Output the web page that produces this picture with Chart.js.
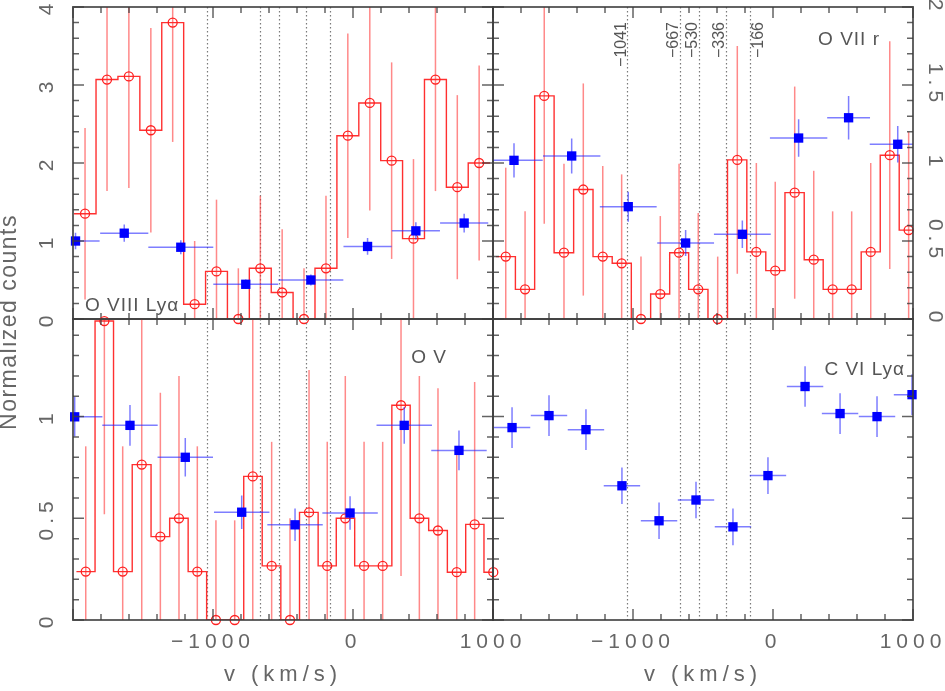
<!DOCTYPE html>
<html>
<head>
<meta charset="utf-8">
<script src="https://cdn.jsdelivr.net/npm/chart.js@4.4.1/dist/chart.umd.min.js"></script>
<style>
  body { margin: 0; background: #fff; }
  #wrap { position: relative; width: 945px; height: 691px; background: #fff; }
  #wrap canvas { position: absolute; left: 0; top: 0; }
</style>
</head>
<body>
<div id="wrap">
  <canvas id="panelO8" width="945" height="691"></canvas>
  <canvas id="panelO7" width="945" height="691"></canvas>
  <canvas id="panelO5" width="945" height="691"></canvas>
  <canvas id="panelC6" width="945" height="691"></canvas>
</div>
<script>
// velocities of the absorption components (km/s)
const markerVelocities = [-1041, -667, -530, -336, -166];

// O VIII Ly alpha
const o8Vel = [-1914, -1757, -1601, -1444, -1288, -1131, -975, -819, -662, -506, -350, -193, -37, 120, 276, 432, 589, 745, 901];
const o8Counts = [1.35, 3.07, 3.11, 2.42, 3.80, 0.19, 0.61, 0.00, 0.65, 0.34, 0.00, 0.65, 2.35, 2.77, 2.03, 1.03, 3.07, 1.69, 2.00];
const o8CountsErr = [1.10, 1.43, 1.43, 1.31, 1.53, 0.81, 0.92, 0.65, 0.93, 0.81, 0.65, 0.93, 1.31, 1.38, 1.26, 1.02, 1.43, 1.18, 1.25];
const o8BinVel = [-1982, -1634, -1230, -766, -301, 104, 449, 794];
const o8BinHalf = [172, 172, 232, 232, 232, 172, 172, 172];
const o8Norm = [1.00, 1.10, 0.92, 0.445, 0.50, 0.93, 1.13, 1.23];
const o8NormErr = [0.107, 0.11, 0.09, 0.06, 0.07, 0.107, 0.11, 0.12];

// O VII r
const o7Vel = [-1909, -1771, -1634, -1493, -1355, -1216, -1081, -943, -805, -671, -534, -395, -255, -119, 16, 155, 291, 426, 562, 698, 834, 969];
const o7Counts = [0.40, 0.19, 1.43, 0.425, 0.83, 0.40, 0.357, 0.00, 0.16, 0.425, 0.19, 0.00, 1.02, 0.43, 0.31, 0.81, 0.38, 0.19, 0.19, 0.43, 1.05, 0.57];
const o7CountsErr = [0.57, 0.50, 0.82, 0.57, 0.68, 0.58, 0.57, 0.40, 0.50, 0.57, 0.49, 0.40, 0.73, 0.57, 0.57, 0.68, 0.57, 0.50, 0.50, 0.57, 0.73, 0.63];
const o7BinVel = [-1850, -1438, -1034, -624, -219, 183, 540, 891];
const o7BinHalf = [205, 205, 203, 203, 203, 205, 153, 200];
const o7Norm = [1.017, 1.045, 0.72, 0.487, 0.543, 1.16, 1.29, 1.12];
const o7NormErr = [0.11, 0.112, 0.096, 0.083, 0.088, 0.12, 0.14, 0.117];

// O V
const o5Vel = [-1909, -1776, -1645, -1509, -1376, -1243, -1112, -979, -845, -716, -581, -450, -314, -184, -55, 79, 212, 343, 474, 607, 741, 869, 1002];
const o5Counts = [0.238, 1.47, 0.238, 0.764, 0.41, 0.50, 0.238, 0.00, 0.00, 0.706, 0.266, 0.00, 0.529, 0.266, 0.50, 0.266, 0.266, 1.056, 0.50, 0.44, 0.235, 0.47, 0.235];
const o5CountsErr = [0.616, 0.95, 0.616, 0.85, 0.707, 0.70, 0.616, 0.49, 0.49, 0.85, 0.61, 0.50, 0.70, 0.61, 0.70, 0.61, 0.61, 0.84, 0.70, 0.70, 0.616, 0.70, 0.616];
const o5BinVel = [-1988, -1593, -1198, -795, -414, -21, 366, 757];
const o5BinHalf = [198, 198, 198, 198, 198, 198, 198, 198];
const o5Norm = [0.999, 0.957, 0.80, 0.53, 0.468, 0.526, 0.957, 0.834];
const o5NormErr = [0.097, 0.10, 0.095, 0.082, 0.08, 0.082, 0.09, 0.098];

// C VI Ly alpha
const c6BinVel = [-1864, -1600, -1336, -1079, -814, -550, -286, -36, 229, 479, 743, 993];
const c6BinHalf = [130, 130, 130, 130, 130, 130, 130, 130, 130, 130, 130, 130];
const c6Norm = [0.946, 1.005, 0.936, 0.66, 0.488, 0.59, 0.458, 0.71, 1.148, 1.015, 1.00, 1.108];
const c6NormErr = [0.10, 0.10, 0.10, 0.09, 0.09, 0.09, 0.09, 0.09, 0.10, 0.10, 0.10, 0.10];

Chart.defaults.font.family = "'Liberation Sans', Arial, sans-serif";
Chart.defaults.color = '#666';

const FONT = "'Liberation Sans', Arial, sans-serif";

function isStep(v, step) {
    const q = v / step;
    return Math.abs(q - Math.round(q)) < 1e-6;
}

function fmt(v) {
    const r = Math.round(v * 100) / 100;
    return r < 0 ? '\u2212' + Math.abs(r) : String(r);
}

const panelFrame = {
    id: 'panelFrame',
    beforeDraw(chart) {
        chart.ctx.letterSpacing = '5px';
    },
    beforeDatasetsDraw(chart) {
        const {ctx, chartArea: a, scales: {x}} = chart;
        ctx.save();
        ctx.strokeStyle = '#7a7a7a';
        ctx.lineWidth = 1.2;
        ctx.setLineDash([1.4, 2.6]);
        markerVelocities.forEach(v => {
            const px = Math.round(x.getPixelForValue(v)) + 0.5;
            ctx.beginPath();
            ctx.moveTo(px, a.top);
            ctx.lineTo(px, a.bottom);
            ctx.stroke();
        });
        ctx.restore();
    },
    beforeDatasetDraw(chart, args) {
        const ds = chart.data.datasets[args.index];
        if (!ds.yErr) return;
        const {ctx, chartArea: a, scales: {x, y}} = chart;
        ctx.save();
        ctx.beginPath();
        ctx.rect(a.left, a.top, a.right - a.left, a.bottom - a.top);
        ctx.clip();
        ctx.strokeStyle = ds.errColor;
        ctx.lineWidth = 1.5;
        ds.data.forEach((p, i) => {
            const px = x.getPixelForValue(p.x);
            const py = y.getPixelForValue(p.y);
            ctx.beginPath();
            ctx.moveTo(px, y.getPixelForValue(p.y - ds.yErr[i]));
            ctx.lineTo(px, y.getPixelForValue(p.y + ds.yErr[i]));
            if (ds.xErr) {
                ctx.moveTo(x.getPixelForValue(p.x - ds.xErr[i]), py);
                ctx.lineTo(x.getPixelForValue(p.x + ds.xErr[i]), py);
            }
            ctx.stroke();
        });
        ctx.restore();
    },
    afterDraw(chart, args, opts) {
        const {ctx, chartArea: a, scales: {x, y}} = chart;
        ctx.save();
        ctx.letterSpacing = '0px';
        // frame
        ctx.strokeStyle = 'rgba(60,60,60,0.8)';
        ctx.lineWidth = 2;
        ctx.strokeRect(a.left, a.top, a.right - a.left, a.bottom - a.top);
        // inward ticks
        ctx.lineWidth = 1.5;
        ctx.beginPath();
        x.ticks.forEach(t => {
            const px = x.getPixelForValue(t.value);
            const len = isStep(t.value, 1000) ? 11 : 6;
            ctx.moveTo(px, a.bottom);
            ctx.lineTo(px, a.bottom - len);
            ctx.moveTo(px, a.top);
            ctx.lineTo(px, a.top + len);
        });
        y.ticks.forEach(t => {
            if (!isStep(t.value, opts.yMinor)) return;
            const py = y.getPixelForValue(t.value);
            const len = isStep(t.value, opts.yMajor) ? 11 : 6;
            ctx.moveTo(a.left, py);
            ctx.lineTo(a.left + len, py);
            ctx.moveTo(a.right, py);
            ctx.lineTo(a.right - len, py);
        });
        ctx.stroke();

        // rotated y tick labels
        ctx.fillStyle = '#666';
        ctx.font = '21px ' + FONT;
        ctx.letterSpacing = '5px';
        ctx.textAlign = 'center';
        ctx.textBaseline = 'middle';
        if (opts.leftLabelStep) {
            y.ticks.filter(t => isStep(t.value, opts.leftLabelStep)).forEach(t => {
                ctx.save();
                ctx.translate(a.left - 26, y.getPixelForValue(t.value));
                ctx.rotate(-Math.PI / 2);
                ctx.fillText(fmt(t.value), 0, 0);
                ctx.restore();
            });
        }
        if (opts.rightLabelStep) {
            y.ticks.filter(t => isStep(t.value, opts.rightLabelStep)).forEach(t => {
                ctx.save();
                ctx.translate(a.right + 22, y.getPixelForValue(t.value));
                ctx.rotate(Math.PI / 2);
                ctx.fillText(fmt(t.value), 0, 0);
                ctx.restore();
            });
        }

        // y title
        if (opts.yTitle) {
            ctx.save();
            ctx.font = '23px ' + FONT;
            ctx.letterSpacing = '1.5px';
            ctx.translate(10, 322);
            ctx.rotate(-Math.PI / 2);
            ctx.fillText(opts.yTitle, 0, 0);
            ctx.restore();
        }

        // velocity labels of the dotted lines
        if (opts.markerLabels) {
            ctx.font = '16px ' + FONT;
            ctx.letterSpacing = '0px';
            ctx.fillStyle = '#555';
            ctx.textAlign = 'right';
            ctx.textBaseline = 'alphabetic';
            markerVelocities.forEach((v, i) => {
                const px = x.getPixelForValue(v);
                const side = opts.markerSide[i];
                ctx.save();
                ctx.translate(side < 0 ? px - 1.5 : px + 13.5, a.top + 15);
                ctx.rotate(-Math.PI / 2);
                ctx.fillText(fmt(v), 0, 0);
                ctx.restore();
            });
        }

        // ion label
        if (opts.label) {
            const lab = opts.label;
            ctx.font = '19px ' + FONT;
            ctx.letterSpacing = '1px';
            ctx.fillStyle = '#555';
            ctx.textBaseline = 'alphabetic';
            ctx.textAlign = lab.anchor;
            const lx = lab.anchor === 'left' ? a.left + lab.dx : a.right - lab.dx;
            ctx.fillText(lab.text, lx, a.top + lab.dy);
        }
        ctx.restore();
    }
};

function histogramSets(vel, counts, err) {
    const w = vel[1] - vel[0];
    const n = vel.length;
    const steps = [{x: vel[0] - w / 2, y: counts[0]}]
        .concat(vel.map((v, i) => ({x: v, y: counts[i]})))
        .concat([{x: vel[n - 1] + w / 2, y: counts[n - 1]}]);
    return [
        {
            type: 'line',
            data: steps,
            stepped: 'middle',
            showLine: true,
            borderColor: '#ff3030',
            borderWidth: 1.4,
            pointRadius: 0,
            order: 2
        },
        {
            data: vel.map((v, i) => ({x: v, y: counts[i]})),
            pointStyle: 'circle',
            pointRadius: 4.5,
            pointBorderWidth: 1.3,
            borderColor: '#ff2020',
            backgroundColor: 'rgba(0,0,0,0)',
            yErr: err,
            errColor: 'rgba(255,40,40,0.55)',
            clip: false,
            order: 1
        }
    ];
}

function binnedSet(vel, half, norm, err) {
    return {
        data: vel.map((v, i) => ({x: v, y: norm[i]})),
        pointStyle: 'rect',
        pointRadius: 6.6,
        pointBorderWidth: 0,
        backgroundColor: '#0000ff',
        borderColor: '#0000ff',
        xErr: half,
        yErr: err,
        errColor: 'rgba(40,40,255,0.6)',
        clip: false,
        order: 0
    };
}

function createPanel(id, datasets, p) {
    const ctx = document.getElementById(id).getContext('2d');
    return new Chart(ctx, {
        type: 'scatter',
        data: {datasets: datasets},
        options: {
            responsive: false,
            animation: false,
            devicePixelRatio: 1,
            events: [],
            layout: {padding: p.padding},
            plugins: {
                legend: {display: false},
                tooltip: {enabled: false},
                panelFrame: p.frame
            },
            scales: {
                x: {
                    type: 'linear',
                    min: -2000,
                    max: 1000,
                    grid: {display: false},
                    border: {display: false},
                    ticks: {
                        display: p.bottom,
                        stepSize: 200,
                        autoSkip: false,
                        maxRotation: 0,
                        padding: 2,
                        color: '#666',
                        font: {size: 21},
                        callback: v => (v === -1000 || v === 0 || v === 1000) ? fmt(v) : ''
                    },
                    title: {
                        display: p.bottom,
                        text: 'v (km/s)',
                        color: '#666',
                        font: {size: 22},
                        padding: {top: 0, bottom: 3}
                    },
                    afterFit: s => { s.height = p.bottom ? 71 : 0; }
                },
                y: {
                    type: 'linear',
                    min: 0,
                    max: p.yMax,
                    grid: {display: false},
                    border: {display: false},
                    ticks: {display: false, stepSize: p.frame.yMinor},
                    afterFit: s => { s.width = 0; }
                }
            }
        },
        plugins: [panelFrame]
    });
}

createPanel('panelO8',
    histogramSets(o8Vel, o8Counts, o8CountsErr).concat([binnedSet(o8BinVel, o8BinHalf, o8Norm, o8NormErr)]),
    {
        padding: {left: 73, top: 7, right: 452, bottom: 372},
        yMax: 4,
        bottom: false,
        frame: {yMinor: 0.2, yMajor: 1, leftLabelStep: 1, label: {text: 'O VIII Ly\u03b1', anchor: 'left', dx: 12, dy: 304}}
    });

createPanel('panelO7',
    histogramSets(o7Vel, o7Counts, o7CountsErr).concat([binnedSet(o7BinVel, o7BinHalf, o7Norm, o7NormErr)]),
    {
        padding: {left: 493, top: 7, right: 32, bottom: 372},
        yMax: 2,
        bottom: false,
        frame: {yMinor: 0.1, yMajor: 0.5, rightLabelStep: 0.5, markerLabels: true, markerSide: [-1, -1, -1, -1, 1],
            label: {text: 'O VII r', anchor: 'right', dx: 33, dy: 38}}
    });

createPanel('panelO5',
    histogramSets(o5Vel, o5Counts, o5CountsErr).concat([binnedSet(o5BinVel, o5BinHalf, o5Norm, o5NormErr)]),
    {
        padding: {left: 73, top: 319, right: 452, bottom: 0},
        yMax: 1.48,
        bottom: true,
        frame: {yMinor: 0.1, yMajor: 0.5, leftLabelStep: 0.5, yTitle: 'Normalized counts',
            label: {text: 'O V', anchor: 'right', dx: 46, dy: 44}}
    });

createPanel('panelC6',
    [binnedSet(c6BinVel, c6BinHalf, c6Norm, c6NormErr)],
    {
        padding: {left: 493, top: 319, right: 32, bottom: 0},
        yMax: 1.48,
        bottom: true,
        frame: {yMinor: 0.1, yMajor: 0.5, label: {text: 'C VI Ly\u03b1', anchor: 'right', dx: 8, dy: 56}}
    });
</script>
</body>
</html>
